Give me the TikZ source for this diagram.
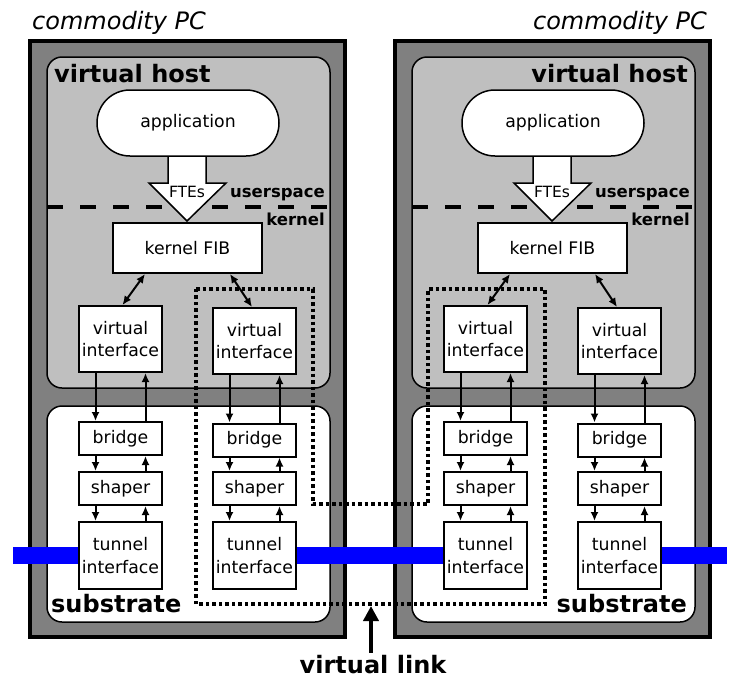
\documentclass[tikz,border=0pt]{standalone}
\usepackage{fontspec}
\setmainfont{DejaVu Sans}
\usetikzlibrary{arrows.meta}
\definecolor{pcgray}{RGB}{128,128,128}
\definecolor{hostgray}{RGB}{191,191,191}
\definecolor{linkblue}{RGB}{0,0,255}
\begin{document}
\begin{tikzpicture}[x=1pt,y=-1pt,
  pcbox/.style={draw=black, line width=4pt, fill=pcgray},
  hostbox/.style={draw=black, line width=1.5pt, fill=hostgray, rounded corners=15pt},
  subbox/.style={draw=black, line width=1.5pt, fill=white, rounded corners=15pt},
  box/.style={draw=black, line width=2pt, fill=white, inner sep=0pt, align=center,
    font=\fontsize{17.3}{21.5}\selectfont},
  appbox/.style={box, line width=1.5pt, rounded corners=32.9pt, minimum width=182pt, minimum height=66pt},
  fibbox/.style={box, minimum width=149pt, minimum height=50pt},
  vibox/.style={box, minimum width=83pt, minimum height=66pt},
  smallbox/.style={box, minimum width=83pt, minimum height=33pt},
  tunbox/.style={box, minimum width=83pt, minimum height=67pt, font=\fontsize{17.3}{23}\selectfont},
  sep/.style={line width=3.5pt, dash pattern=on 16pt off 17pt},
  blockarrow/.style={draw=black, line width=1.5pt, fill=white},
  flow/.style={line width=2pt, -{Latex[length=9pt,width=8pt]}},
  bidir/.style={line width=2pt, {Latex[length=9pt,width=8pt]}-{Latex[length=9pt,width=8pt]}},
  linkbar/.style={line width=17pt, draw=linkblue},
  vlinkpath/.style={line width=3.5pt, dash pattern=on 3.5pt off 3pt},
  bigtitle/.style={inner sep=0pt, font=\fontsize{24}{28}\selectfont\itshape},
  boldlabel/.style={inner sep=0pt, font=\fontsize{24}{28}\selectfont\bfseries},
  smalllabel/.style={inner sep=0pt, font=\fontsize{16.5}{20}\selectfont\bfseries},
  ftelabel/.style={inner sep=0pt, font=\fontsize{15.5}{18}\selectfont},
  vlarrow/.style={line width=4pt, -{Triangle[length=15pt,width=15pt]}}
]
\useasboundingbox (0,0) rectangle (747,694);

\foreach \p/\dx in {L/0,R/365} {
\begin{scope}[xshift=\dx pt]
  \draw[pcbox] (30,41) rectangle (345,637);
  \draw[hostbox] (47,57) rectangle (330,388);
  \draw[subbox] (47,406) rectangle (330,622);
  \draw[sep] (47,207) -- (330,207);
  \draw[blockarrow] (168,156) -- (168,183) -- (149,183) -- (187,221) -- (226,183) -- (206,183) -- (206,156) -- cycle;
  \node[ftelabel, anchor=base] (\p-fte) at (187,197) {FTEs};
  \node[appbox] (\p-app) at (188,123) {application};
  \node[smalllabel, anchor=base east] (\p-us) at (325,197) {userspace};
  \node[smalllabel, anchor=base east] (\p-kn) at (325,225) {kernel};
  \node[fibbox] (\p-fib) at (187.5,248) {kernel FIB};
  \node[vibox] (\p-vi1) at (120.5,339) {virtual\\interface};
  \node[vibox] (\p-vi2) at (254.5,341) {virtual\\interface};
  \node[smallbox] (\p-br1) at (120.5,438.5) {bridge};
  \node[smallbox] (\p-br2) at (254.5,440) {bridge};
  \node[smallbox] (\p-sh1) at (120.5,488.5) {shaper};
  \node[smallbox] (\p-sh2) at (254.5,488.5) {shaper};
  \node[tunbox] (\p-tu1) at (120.5,555.5) {tunnel\\interface};
  \node[tunbox] (\p-tu2) at (254.5,555.5) {tunnel\\interface};
  \draw[bidir] ([xshift=-42.5pt]\p-fib.south) -- ([xshift=2pt]\p-vi1.north);
  \draw[bidir] ([xshift=42.5pt]\p-fib.south) -- ([xshift=-2.5pt]\p-vi2.north);
  \foreach \c in {1,2} {
    \draw[flow] ([xshift=-25pt]\p-vi\c.south) -- ([xshift=-25pt]\p-br\c.north);
    \draw[flow] ([xshift=25pt]\p-br\c.north) -- ([xshift=25pt]\p-vi\c.south);
    \draw[flow] ([xshift=-25pt]\p-br\c.south) -- ([xshift=-25pt]\p-sh\c.north);
    \draw[flow] ([xshift=25pt]\p-sh\c.north) -- ([xshift=25pt]\p-br\c.south);
    \draw[flow] ([xshift=-25pt]\p-sh\c.south) -- ([xshift=-25pt]\p-tu\c.north);
    \draw[flow] ([xshift=25pt]\p-tu\c.north) -- ([xshift=25pt]\p-sh\c.south);
  }
\end{scope}
}

% physical links
\coordinate (linkL) at (13,555.5);
\coordinate (linkR) at (727,555.5);
\draw[linkbar] (linkL) -- (L-tu1.west);
\draw[linkbar] (L-tu2.east) -- (R-tu1.west);
\draw[linkbar] (R-tu2.east) -- (linkR);

% virtual link outline
\draw[vlinkpath] (196,289) -- (313,289) -- (313,504) -- (428,504) -- (428,289)
  -- (545,289) -- (545,604) -- (196,604) -- cycle;

% labels
\node[bigtitle, anchor=base west] (titleL) at (32,29) {commodity PC};
\node[bigtitle, anchor=base east] (titleR) at (707,29) {commodity PC};
\node[boldlabel, anchor=base west] (hostL) at (54,82) {virtual host};
\node[boldlabel, anchor=base east] (hostR) at (688,82) {virtual host};
\node[boldlabel, anchor=base west] (subL) at (51,612) {substrate};
\node[boldlabel, anchor=base east] (subR) at (687,612) {substrate};

\node[boldlabel, anchor=base] (vlink) at (373,673) {virtual link};
\coordinate (vltip) at (371,606);
\draw[vlarrow] (vlink.north -| vltip) ++(0,-2) -- (vltip);
\end{tikzpicture}
\end{document}
